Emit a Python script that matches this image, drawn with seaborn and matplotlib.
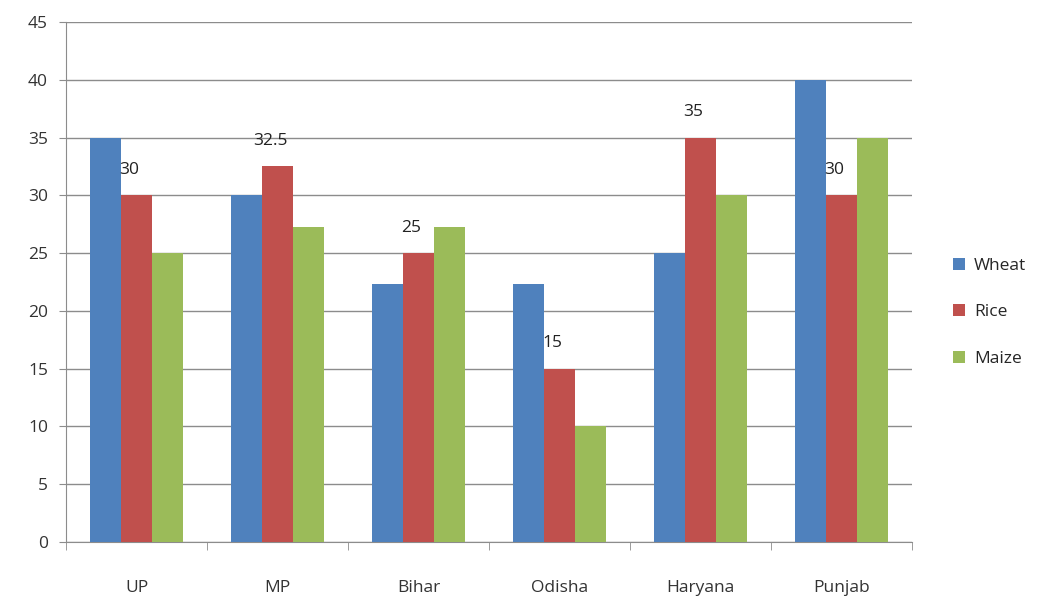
import seaborn as sns
import pandas as pd
import matplotlib.pyplot as plt
import numpy as np
from matplotlib.ticker import FixedLocator

states = ['UP', 'MP', 'Bihar', 'Odisha', 'Haryana', 'Punjab']
wheat = [35, 30, 22.3, 22.3, 25, 40]
rice = [30, 32.5, 25, 15, 35, 30]
maize = [25, 27.3, 27.3, 10, 30, 35]
rice_labels = ['30', '32.5', '25', '15', '35', '30']

df = pd.DataFrame({'State': states * 3,
                   'Crop': ['Wheat'] * 6 + ['Rice'] * 6 + ['Maize'] * 6,
                   'Value': wheat + rice + maize})

sns.set_style('white')
plt.rcParams['font.family'] = ['Open Sans', 'DejaVu Sans']

fig = plt.figure(figsize=(10.51, 5.96), dpi=100)
ax = fig.add_axes([0.0628, 0.0906, 0.805, 0.8725])

palette = {'Wheat': '#4F81BD', 'Rice': '#C0504D', 'Maize': '#9BBB59'}
sns.barplot(data=df, x='State', y='Value', hue='Crop', palette=palette,
            width=0.66, saturation=1, linewidth=0, ax=ax, zorder=3)

ax.set_ylim(0, 45)
ax.set_xlim(-0.5, 5.5)
ax.set_yticks(range(0, 50, 5))
ax.grid(axis='y', color='#8c8c8c', linewidth=1, zorder=0)
ax.set_xlabel('')
ax.set_ylabel('')

for s in ['top', 'right']:
    ax.spines[s].set_visible(False)
for s in ['left', 'bottom']:
    ax.spines[s].set_color('#8c8c8c')

ax.tick_params(axis='y', length=5, color='#8c8c8c', direction='out', labelsize=12.5,
               labelcolor='#333333', pad=8, left=True)
ax.tick_params(axis='x', which='major', length=0, pad=27, labelsize=12.5, labelcolor='#333333')
ax.xaxis.set_minor_locator(FixedLocator(np.arange(-0.5, 6, 1)))
ax.tick_params(axis='x', which='minor', length=6, color='#8c8c8c', direction='out', bottom=True)

# data labels above the rice bars
for i, (v, t) in enumerate(zip(rice, rice_labels)):
    ax.text(i - 0.05, v + 1.5, t, ha='center', va='bottom', fontsize=12.5, color='#222222')

ax.legend(loc='center left', bbox_to_anchor=(1.03, 0.442), frameon=False, fontsize=12.5,
          handlelength=0.7, handleheight=0.7, labelspacing=1.75, handletextpad=0.5)

plt.savefig('out.png', dpi=100)
